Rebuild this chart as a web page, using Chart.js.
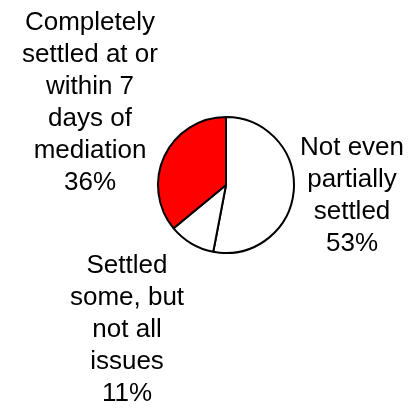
<!DOCTYPE html>
<html>
<head>
<meta charset="utf-8">
<script src="https://cdn.jsdelivr.net/npm/chart.js@4/dist/chart.umd.min.js"></script>
<style>
  html, body { margin: 0; padding: 0; background: #fff; }
  #wrap { width: 412px; height: 411px; }
</style>
</head>
<body>
<div id="wrap"><canvas id="myChart" width="412" height="411"></canvas></div>
<script>
// outcome categories, clockwise from 12 o'clock
const labels = [
	["Not even", "partially", "settled"],
	["Settled", "some, but", "not all", "issues"],
	["Completely", "settled at or", "within 7", "days of", "mediation"]
];
const percents = [53, 11, 36];
const colors = ["#ffffff", "#ffffff", "#ff0000"];

// where each label block sits, relative to the pie centre
const labelOffsets = [[126, 11], [-99, 145], [-136, -82]];

const sliceLabels = {
	id: "sliceLabels",
	afterDraw(chart){
		let ctx = chart.ctx;
		let arcs = chart.getDatasetMeta(0).data;
		ctx.save();
		ctx.fillStyle = "#000";
		ctx.font = "26px Arial, 'Liberation Sans', sans-serif";
		ctx.textAlign = "center";
		ctx.textBaseline = "middle";
		let lineH = 32;
		for(let i in arcs){
			let lines = labels[i].concat([percents[i] + "%"]);
			let cx = arcs[i].x + labelOffsets[i][0];
			let cy = arcs[i].y + labelOffsets[i][1];
			let top = cy - (lines.length - 1) * lineH / 2;
			for(let j = 0; j < lines.length; j++){
				ctx.fillText(lines[j], cx, top + j * lineH);
			}
		}
		ctx.restore();
	}
};

new Chart(document.getElementById("myChart"), {
	type: "pie",
	data: {
		labels: labels.map(l => l.join(" ")),
		datasets: [{
			data: percents,
			backgroundColor: colors,
			borderColor: "#000",
			borderWidth: 2
		}]
	},
	options: {
		responsive: false,
		animation: false,
		layout: { padding: { left: 157, right: 117, top: 116, bottom: 157 } },
		plugins: {
			legend: { display: false },
			tooltip: { enabled: false }
		}
	},
	plugins: [sliceLabels]
});
</script>
</body>
</html>
